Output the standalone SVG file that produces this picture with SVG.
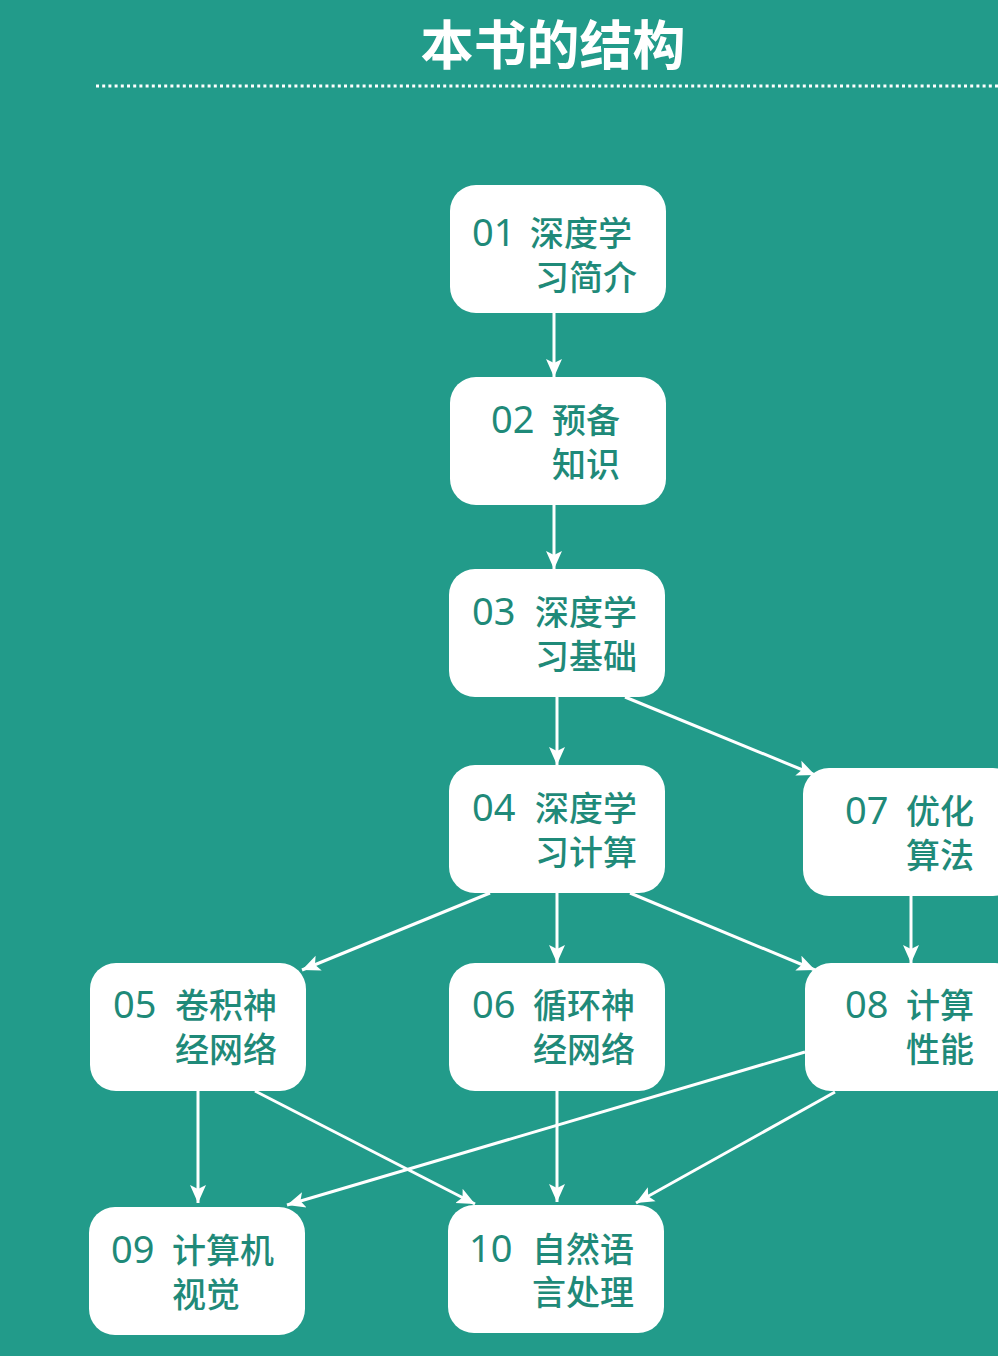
<svg xmlns="http://www.w3.org/2000/svg" width="998" height="1356" viewBox="0 0 998 1356">
<defs>
<style>
.node rect{fill:#ffffff;}
.node text{font-family:"Noto Sans CJK SC","Noto Sans",sans-serif;font-size:34px;font-weight:500;fill:#1f8a79;}
.node .num{font-family:"Noto Sans","Noto Sans CJK SC",sans-serif;font-size:38px;font-weight:normal;}
.title{font-family:"Noto Sans CJK SC",sans-serif;font-size:53px;font-weight:bold;fill:#ffffff;}
.conn line{stroke:#ffffff;stroke-width:3;marker-end:url(#arr);}
</style>
<marker id="arr" markerUnits="userSpaceOnUse" markerWidth="20" markerHeight="20" viewBox="0 0 20 20" refX="18" refY="10" orient="auto">
<path d="M0,2 L18,10 L0,18 L4,10 z" fill="#ffffff"/>
</marker>
</defs>
<rect width="998" height="1356" fill="#229b8a"/>
<text class="title" x="553" y="65" text-anchor="middle">本书的结构</text>
<line x1="96" y1="86" x2="998" y2="86" stroke="#ffffff" stroke-width="3" stroke-dasharray="3 3.2"/>
<g class="conn" id="connectors">
<line x1="554" y1="313" x2="554" y2="377"/>
<line x1="554" y1="505" x2="554" y2="569"/>
<line x1="557" y1="697" x2="557" y2="765"/>
<line x1="625" y1="697" x2="815" y2="775"/>
<line x1="490" y1="893" x2="302" y2="970"/>
<line x1="557" y1="893" x2="557" y2="963"/>
<line x1="630" y1="893" x2="815" y2="970"/>
<line x1="911" y1="896" x2="911" y2="963"/>
<line x1="198" y1="1091" x2="198" y2="1203"/>
<line x1="255" y1="1091" x2="475" y2="1204"/>
<line x1="557" y1="1091" x2="557" y2="1202"/>
<line x1="805" y1="1052" x2="287" y2="1205"/>
<line x1="835" y1="1092" x2="636" y2="1203"/>
</g>
<g class="node" id="n01"><rect x="450" y="185" width="216" height="128" rx="26"/><text><tspan class="num" x="472" y="246">01</tspan><tspan x="530" y="246">深度学</tspan><tspan x="535" y="290">习简介</tspan></text></g>
<g class="node" id="n02"><rect x="450" y="377" width="216" height="128" rx="26"/><text><tspan class="num" x="491" y="433">02</tspan><tspan x="552" y="433">预备</tspan><tspan x="552" y="477">知识</tspan></text></g>
<g class="node" id="n03"><rect x="449" y="569" width="216" height="128" rx="26"/><text><tspan class="num" x="472" y="625">03</tspan><tspan x="535" y="625">深度学</tspan><tspan x="535" y="669">习基础</tspan></text></g>
<g class="node" id="n04"><rect x="449" y="765" width="216" height="128" rx="26"/><text><tspan class="num" x="472" y="821">04</tspan><tspan x="535" y="821">深度学</tspan><tspan x="535" y="865">习计算</tspan></text></g>
<g class="node" id="n07"><rect x="803" y="768" width="216" height="128" rx="26"/><text><tspan class="num" x="845" y="824">07</tspan><tspan x="906" y="824">优化</tspan><tspan x="906" y="868">算法</tspan></text></g>
<g class="node" id="n05"><rect x="90" y="963" width="216" height="128" rx="26"/><text><tspan class="num" x="113" y="1018">05</tspan><tspan x="175" y="1018">卷积神</tspan><tspan x="175" y="1062">经网络</tspan></text></g>
<g class="node" id="n06"><rect x="449" y="963" width="216" height="128" rx="26"/><text><tspan class="num" x="472" y="1018">06</tspan><tspan x="533" y="1018">循环神</tspan><tspan x="533" y="1062">经网络</tspan></text></g>
<g class="node" id="n08"><rect x="805" y="963" width="216" height="128" rx="26"/><text><tspan class="num" x="845" y="1018">08</tspan><tspan x="906" y="1018">计算</tspan><tspan x="906" y="1062">性能</tspan></text></g>
<g class="node" id="n09"><rect x="89" y="1207" width="216" height="128" rx="26"/><text><tspan class="num" x="111" y="1263">09</tspan><tspan x="172" y="1263">计算机</tspan><tspan x="172" y="1307">视觉</tspan></text></g>
<g class="node" id="n10"><rect x="448" y="1205" width="216" height="128" rx="26"/><text><tspan class="num" x="469" y="1262">10</tspan><tspan x="532" y="1262">自然语</tspan><tspan x="532" y="1305">言处理</tspan></text></g>
</svg>
